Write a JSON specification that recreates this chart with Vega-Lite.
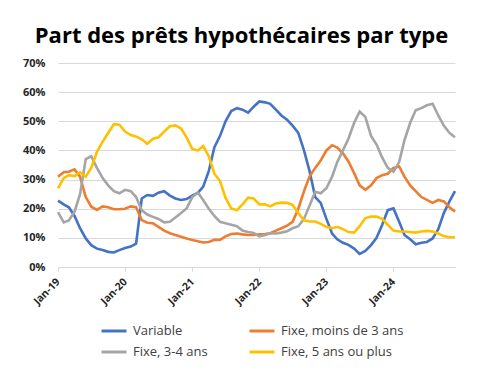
{
  "$schema": "https://vega.github.io/schema/vega-lite/v6.json",
  "width": 397,
  "height": 204,
  "autosize": "none",
  "padding": {"left": 58, "top": 63, "right": 32, "bottom": 117},
  "background": "white",
  "title": {"text": "Part des prêts hypothécaires par type", "font": "Open Sans", "fontSize": 22, "fontWeight": "bold", "color": "#000000", "anchor": "middle", "dx": -15, "offset": 9},
  "data": {"values": [
    {"d": "2019-01-01", "Variable": 22.8, "Fixe, moins de 3 ans": 31, "Fixe, 3-4 ans": 18.8, "Fixe, 5 ans ou plus": 27},
    {"d": "2019-02-01", "Variable": 21.5, "Fixe, moins de 3 ans": 32.5, "Fixe, 3-4 ans": 15.3, "Fixe, 5 ans ou plus": 30.5},
    {"d": "2019-03-01", "Variable": 20.5, "Fixe, moins de 3 ans": 32.7, "Fixe, 3-4 ans": 16, "Fixe, 5 ans ou plus": 31.5},
    {"d": "2019-04-01", "Variable": 17.5, "Fixe, moins de 3 ans": 33.5, "Fixe, 3-4 ans": 19, "Fixe, 5 ans ou plus": 31.2},
    {"d": "2019-05-01", "Variable": 13.3, "Fixe, moins de 3 ans": 31, "Fixe, 3-4 ans": 25, "Fixe, 5 ans ou plus": 32.5},
    {"d": "2019-06-01", "Variable": 9.8, "Fixe, moins de 3 ans": 24, "Fixe, 3-4 ans": 37, "Fixe, 5 ans ou plus": 31},
    {"d": "2019-07-01", "Variable": 7.5, "Fixe, moins de 3 ans": 20.7, "Fixe, 3-4 ans": 38, "Fixe, 5 ans ou plus": 34},
    {"d": "2019-08-01", "Variable": 6.3, "Fixe, moins de 3 ans": 19.6, "Fixe, 3-4 ans": 34, "Fixe, 5 ans ou plus": 39.5},
    {"d": "2019-09-01", "Variable": 5.8, "Fixe, moins de 3 ans": 20.8, "Fixe, 3-4 ans": 30.5, "Fixe, 5 ans ou plus": 43},
    {"d": "2019-10-01", "Variable": 5.2, "Fixe, moins de 3 ans": 20.5, "Fixe, 3-4 ans": 28, "Fixe, 5 ans ou plus": 46},
    {"d": "2019-11-01", "Variable": 5, "Fixe, moins de 3 ans": 19.8, "Fixe, 3-4 ans": 26, "Fixe, 5 ans ou plus": 49},
    {"d": "2019-12-01", "Variable": 5.8, "Fixe, moins de 3 ans": 19.8, "Fixe, 3-4 ans": 25.3, "Fixe, 5 ans ou plus": 48.8},
    {"d": "2020-01-01", "Variable": 6.5, "Fixe, moins de 3 ans": 20, "Fixe, 3-4 ans": 26.5, "Fixe, 5 ans ou plus": 46.5},
    {"d": "2020-02-01", "Variable": 7, "Fixe, moins de 3 ans": 20.8, "Fixe, 3-4 ans": 26, "Fixe, 5 ans ou plus": 45.3},
    {"d": "2020-03-01", "Variable": 8, "Fixe, moins de 3 ans": 20.5, "Fixe, 3-4 ans": 24, "Fixe, 5 ans ou plus": 44.8},
    {"d": "2020-04-01", "Variable": 23.5, "Fixe, moins de 3 ans": 16.1, "Fixe, 3-4 ans": 19.5, "Fixe, 5 ans ou plus": 43.8},
    {"d": "2020-05-01", "Variable": 24.7, "Fixe, moins de 3 ans": 15.2, "Fixe, 3-4 ans": 18, "Fixe, 5 ans ou plus": 42.3},
    {"d": "2020-06-01", "Variable": 24.4, "Fixe, moins de 3 ans": 15, "Fixe, 3-4 ans": 17.2, "Fixe, 5 ans ou plus": 44},
    {"d": "2020-07-01", "Variable": 25.5, "Fixe, moins de 3 ans": 13.8, "Fixe, 3-4 ans": 16.5, "Fixe, 5 ans ou plus": 44.5},
    {"d": "2020-08-01", "Variable": 26, "Fixe, moins de 3 ans": 12.5, "Fixe, 3-4 ans": 15.3, "Fixe, 5 ans ou plus": 46.5},
    {"d": "2020-09-01", "Variable": 24.5, "Fixe, moins de 3 ans": 11.6, "Fixe, 3-4 ans": 15.5, "Fixe, 5 ans ou plus": 48.3},
    {"d": "2020-10-01", "Variable": 23.5, "Fixe, moins de 3 ans": 11, "Fixe, 3-4 ans": 17, "Fixe, 5 ans ou plus": 48.6},
    {"d": "2020-11-01", "Variable": 23, "Fixe, moins de 3 ans": 10.4, "Fixe, 3-4 ans": 18.5, "Fixe, 5 ans ou plus": 47.5},
    {"d": "2020-12-01", "Variable": 23.3, "Fixe, moins de 3 ans": 9.8, "Fixe, 3-4 ans": 20.1, "Fixe, 5 ans ou plus": 44.5},
    {"d": "2021-01-01", "Variable": 24.5, "Fixe, moins de 3 ans": 9.3, "Fixe, 3-4 ans": 24, "Fixe, 5 ans ou plus": 40.5},
    {"d": "2021-02-01", "Variable": 25.5, "Fixe, moins de 3 ans": 8.8, "Fixe, 3-4 ans": 25.5, "Fixe, 5 ans ou plus": 40},
    {"d": "2021-03-01", "Variable": 27.5, "Fixe, moins de 3 ans": 8.4, "Fixe, 3-4 ans": 23, "Fixe, 5 ans ou plus": 41.5},
    {"d": "2021-04-01", "Variable": 33, "Fixe, moins de 3 ans": 8.6, "Fixe, 3-4 ans": 20, "Fixe, 5 ans ou plus": 38},
    {"d": "2021-05-01", "Variable": 41, "Fixe, moins de 3 ans": 9.3, "Fixe, 3-4 ans": 17.5, "Fixe, 5 ans ou plus": 32},
    {"d": "2021-06-01", "Variable": 45, "Fixe, moins de 3 ans": 9.3, "Fixe, 3-4 ans": 15.5, "Fixe, 5 ans ou plus": 29.5},
    {"d": "2021-07-01", "Variable": 50, "Fixe, moins de 3 ans": 10.5, "Fixe, 3-4 ans": 15, "Fixe, 5 ans ou plus": 23.7},
    {"d": "2021-08-01", "Variable": 53.5, "Fixe, moins de 3 ans": 11.3, "Fixe, 3-4 ans": 14.5, "Fixe, 5 ans ou plus": 20.1},
    {"d": "2021-09-01", "Variable": 54.5, "Fixe, moins de 3 ans": 11.5, "Fixe, 3-4 ans": 14, "Fixe, 5 ans ou plus": 19.5},
    {"d": "2021-10-01", "Variable": 54, "Fixe, moins de 3 ans": 11.2, "Fixe, 3-4 ans": 12.5, "Fixe, 5 ans ou plus": 21.5},
    {"d": "2021-11-01", "Variable": 53, "Fixe, moins de 3 ans": 11, "Fixe, 3-4 ans": 12, "Fixe, 5 ans ou plus": 23.8},
    {"d": "2021-12-01", "Variable": 55, "Fixe, moins de 3 ans": 11, "Fixe, 3-4 ans": 11.7, "Fixe, 5 ans ou plus": 23.5},
    {"d": "2022-01-01", "Variable": 56.8, "Fixe, moins de 3 ans": 11.2, "Fixe, 3-4 ans": 10.5, "Fixe, 5 ans ou plus": 21.5},
    {"d": "2022-02-01", "Variable": 56.5, "Fixe, moins de 3 ans": 11.3, "Fixe, 3-4 ans": 11, "Fixe, 5 ans ou plus": 21.5},
    {"d": "2022-03-01", "Variable": 56, "Fixe, moins de 3 ans": 11.6, "Fixe, 3-4 ans": 11.6, "Fixe, 5 ans ou plus": 20.8},
    {"d": "2022-04-01", "Variable": 54, "Fixe, moins de 3 ans": 12.5, "Fixe, 3-4 ans": 11.5, "Fixe, 5 ans ou plus": 21.8},
    {"d": "2022-05-01", "Variable": 52, "Fixe, moins de 3 ans": 13.3, "Fixe, 3-4 ans": 11.8, "Fixe, 5 ans ou plus": 22.1},
    {"d": "2022-06-01", "Variable": 50.5, "Fixe, moins de 3 ans": 14.2, "Fixe, 3-4 ans": 12.3, "Fixe, 5 ans ou plus": 22},
    {"d": "2022-07-01", "Variable": 48.5, "Fixe, moins de 3 ans": 15.5, "Fixe, 3-4 ans": 13.3, "Fixe, 5 ans ou plus": 21.3},
    {"d": "2022-08-01", "Variable": 46, "Fixe, moins de 3 ans": 20, "Fixe, 3-4 ans": 14, "Fixe, 5 ans ou plus": 18.5},
    {"d": "2022-09-01", "Variable": 40, "Fixe, moins de 3 ans": 26, "Fixe, 3-4 ans": 16.5, "Fixe, 5 ans ou plus": 16},
    {"d": "2022-10-01", "Variable": 33, "Fixe, moins de 3 ans": 31, "Fixe, 3-4 ans": 21, "Fixe, 5 ans ou plus": 15.6},
    {"d": "2022-11-01", "Variable": 24, "Fixe, moins de 3 ans": 34, "Fixe, 3-4 ans": 25.8, "Fixe, 5 ans ou plus": 15.6},
    {"d": "2022-12-01", "Variable": 22, "Fixe, moins de 3 ans": 36.5, "Fixe, 3-4 ans": 25.3, "Fixe, 5 ans ou plus": 14.8},
    {"d": "2023-01-01", "Variable": 16.5, "Fixe, moins de 3 ans": 40, "Fixe, 3-4 ans": 27, "Fixe, 5 ans ou plus": 13.8},
    {"d": "2023-02-01", "Variable": 11.5, "Fixe, moins de 3 ans": 41.8, "Fixe, 3-4 ans": 31, "Fixe, 5 ans ou plus": 13.3},
    {"d": "2023-03-01", "Variable": 9.5, "Fixe, moins de 3 ans": 41, "Fixe, 3-4 ans": 36, "Fixe, 5 ans ou plus": 13.8},
    {"d": "2023-04-01", "Variable": 8.3, "Fixe, moins de 3 ans": 39, "Fixe, 3-4 ans": 40, "Fixe, 5 ans ou plus": 13},
    {"d": "2023-05-01", "Variable": 7.6, "Fixe, moins de 3 ans": 36.2, "Fixe, 3-4 ans": 44, "Fixe, 5 ans ou plus": 12},
    {"d": "2023-06-01", "Variable": 6.3, "Fixe, moins de 3 ans": 32.2, "Fixe, 3-4 ans": 49.5, "Fixe, 5 ans ou plus": 11.8},
    {"d": "2023-07-01", "Variable": 4.5, "Fixe, moins de 3 ans": 28, "Fixe, 3-4 ans": 53.3, "Fixe, 5 ans ou plus": 14},
    {"d": "2023-08-01", "Variable": 5.5, "Fixe, moins de 3 ans": 26.5, "Fixe, 3-4 ans": 51.5, "Fixe, 5 ans ou plus": 16.8},
    {"d": "2023-09-01", "Variable": 7.5, "Fixe, moins de 3 ans": 28, "Fixe, 3-4 ans": 45, "Fixe, 5 ans ou plus": 17.3},
    {"d": "2023-10-01", "Variable": 10, "Fixe, moins de 3 ans": 30.5, "Fixe, 3-4 ans": 42, "Fixe, 5 ans ou plus": 17.3},
    {"d": "2023-11-01", "Variable": 14.5, "Fixe, moins de 3 ans": 31.5, "Fixe, 3-4 ans": 37.5, "Fixe, 5 ans ou plus": 16.5},
    {"d": "2023-12-01", "Variable": 19.5, "Fixe, moins de 3 ans": 32, "Fixe, 3-4 ans": 34, "Fixe, 5 ans ou plus": 14.5},
    {"d": "2024-01-01", "Variable": 20.1, "Fixe, moins de 3 ans": 34, "Fixe, 3-4 ans": 32.7, "Fixe, 5 ans ou plus": 12.5},
    {"d": "2024-02-01", "Variable": 15.5, "Fixe, moins de 3 ans": 34.5, "Fixe, 3-4 ans": 36, "Fixe, 5 ans ou plus": 12.2},
    {"d": "2024-03-01", "Variable": 11, "Fixe, moins de 3 ans": 31, "Fixe, 3-4 ans": 43.5, "Fixe, 5 ans ou plus": 12.2},
    {"d": "2024-04-01", "Variable": 9.5, "Fixe, moins de 3 ans": 28, "Fixe, 3-4 ans": 49.5, "Fixe, 5 ans ou plus": 12},
    {"d": "2024-05-01", "Variable": 7.8, "Fixe, moins de 3 ans": 26, "Fixe, 3-4 ans": 53.8, "Fixe, 5 ans ou plus": 11.8},
    {"d": "2024-06-01", "Variable": 8.3, "Fixe, moins de 3 ans": 24, "Fixe, 3-4 ans": 54.5, "Fixe, 5 ans ou plus": 12.2},
    {"d": "2024-07-01", "Variable": 8.6, "Fixe, moins de 3 ans": 23, "Fixe, 3-4 ans": 55.5, "Fixe, 5 ans ou plus": 12.4},
    {"d": "2024-08-01", "Variable": 9.8, "Fixe, moins de 3 ans": 22, "Fixe, 3-4 ans": 56, "Fixe, 5 ans ou plus": 12.2},
    {"d": "2024-09-01", "Variable": 13, "Fixe, moins de 3 ans": 23, "Fixe, 3-4 ans": 52, "Fixe, 5 ans ou plus": 11.5},
    {"d": "2024-10-01", "Variable": 18.5, "Fixe, moins de 3 ans": 22.5, "Fixe, 3-4 ans": 48.5, "Fixe, 5 ans ou plus": 10.6},
    {"d": "2024-11-01", "Variable": 22.5, "Fixe, moins de 3 ans": 20.5, "Fixe, 3-4 ans": 46, "Fixe, 5 ans ou plus": 10.2},
    {"d": "2024-12-01", "Variable": 26, "Fixe, moins de 3 ans": 19, "Fixe, 3-4 ans": 44.5, "Fixe, 5 ans ou plus": 10.2}
  ]},
  "transform": [{"fold": ["Variable", "Fixe, moins de 3 ans", "Fixe, 3-4 ans", "Fixe, 5 ans ou plus"], "as": ["serie", "valeur"]}],
  "mark": {"type": "line", "strokeWidth": 2.6},
  "encoding": {
    "x": {"field": "d", "type": "temporal", "timeUnit": "utcyearmonth", "scale": {"nice": false},
      "axis": {"title": null, "format": "%b-%y", "tickCount": {"interval": "year", "step": 1}, "labelAngle": -45, "labelAlign": "right", "labelBaseline": "middle", "labelFont": "Open Sans", "labelFontWeight": "bold", "labelFontSize": 10.5, "labelColor": "#262626", "labelPadding": 9, "grid": false, "domainColor": "#d9d9d9", "tickColor": "#d9d9d9", "tickSize": 4, "labelOverlap": false}},
    "y": {"field": "valeur", "type": "quantitative", "scale": {"domain": [0, 70]},
      "axis": {"title": null, "values": [0, 10, 20, 30, 40, 50, 60, 70], "labelExpr": "datum.value + '%'", "labelFont": "Open Sans", "labelFontWeight": "bold", "labelFontSize": 11, "labelColor": "#262626", "labelPadding": 13, "domain": false, "ticks": false, "gridColor": "#d9d9d9", "gridWidth": 1}},
    "color": {"field": "serie", "type": "nominal", "sort": null,
      "scale": {"domain": ["Variable", "Fixe, moins de 3 ans", "Fixe, 3-4 ans", "Fixe, 5 ans ou plus"], "range": ["#4472C4", "#ED7D31", "#A5A5A5", "#FFC000"]},
      "legend": {"title": null, "orient": "none", "legendX": 42, "legendY": 254, "direction": "horizontal", "columns": 2, "symbolType": "stroke", "symbolSize": 625, "symbolStrokeWidth": 3, "labelFont": "Open Sans", "labelFontSize": 13, "labelColor": "#404040", "labelOffset": 5, "rowPadding": -1, "columnPadding": 35}}
  },
  "config": {"font": "Open Sans", "view": {"stroke": null}}
}
